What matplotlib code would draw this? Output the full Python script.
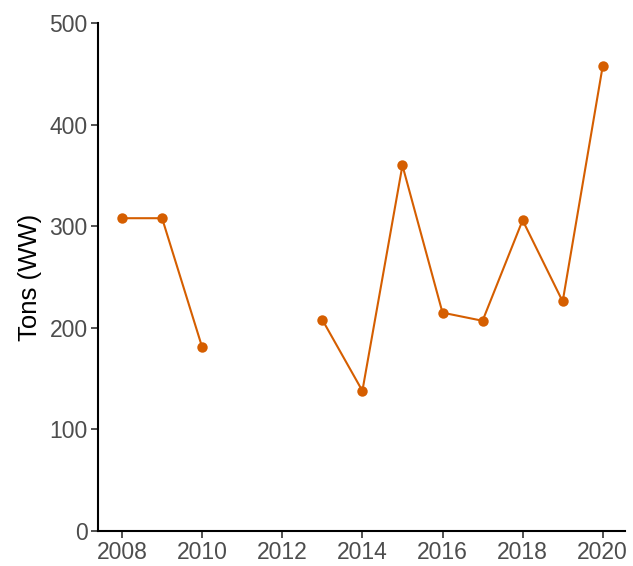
import numpy as np
import matplotlib
matplotlib.use("Agg")
import matplotlib.pyplot as plt

years = [2008, 2009, 2010, 2011, 2012, 2013, 2014, 2015, 2016, 2017, 2018, 2019, 2020]
tons = [308, 308, 181, np.nan, np.nan, 208, 138, 360, 215, 207, 306, 226, 458]
xticks = [2008, 2010, 2012, 2014, 2016, 2018, 2020]
yticks = [0, 100, 200, 300, 400, 500]

plt.rcParams['font.family'] = ['Liberation Sans', 'DejaVu Sans']

fig = plt.figure(figsize=(6.33, 5.66), dpi=100)
ax = fig.add_axes([0.1548, 0.0618, 0.987 - 0.1548, 0.959 - 0.0618])

color = "#D55E00"
ax.plot(years, tons, color=color, lw=1.5, marker='o', markersize=7.5, markeredgewidth=0)

ax.set_xlim(2007.4, 2020.55)
ax.set_ylim(0, 500)
ax.set_xticks(xticks)
ax.set_yticks(yticks)
ax.set_ylabel("Tons (WW)", fontsize=18.5, color='black', labelpad=5)

for s in ['top', 'right']:
    ax.spines[s].set_visible(False)
for s in ['left', 'bottom']:
    ax.spines[s].set_linewidth(1.5)
    ax.spines[s].set_color('black')

ax.tick_params(axis='both', labelsize=16.5, labelcolor='#4D4D4D', color='#333333',
               length=5, width=1.2, pad=2.5)

fig.savefig("out.png", dpi=100)
